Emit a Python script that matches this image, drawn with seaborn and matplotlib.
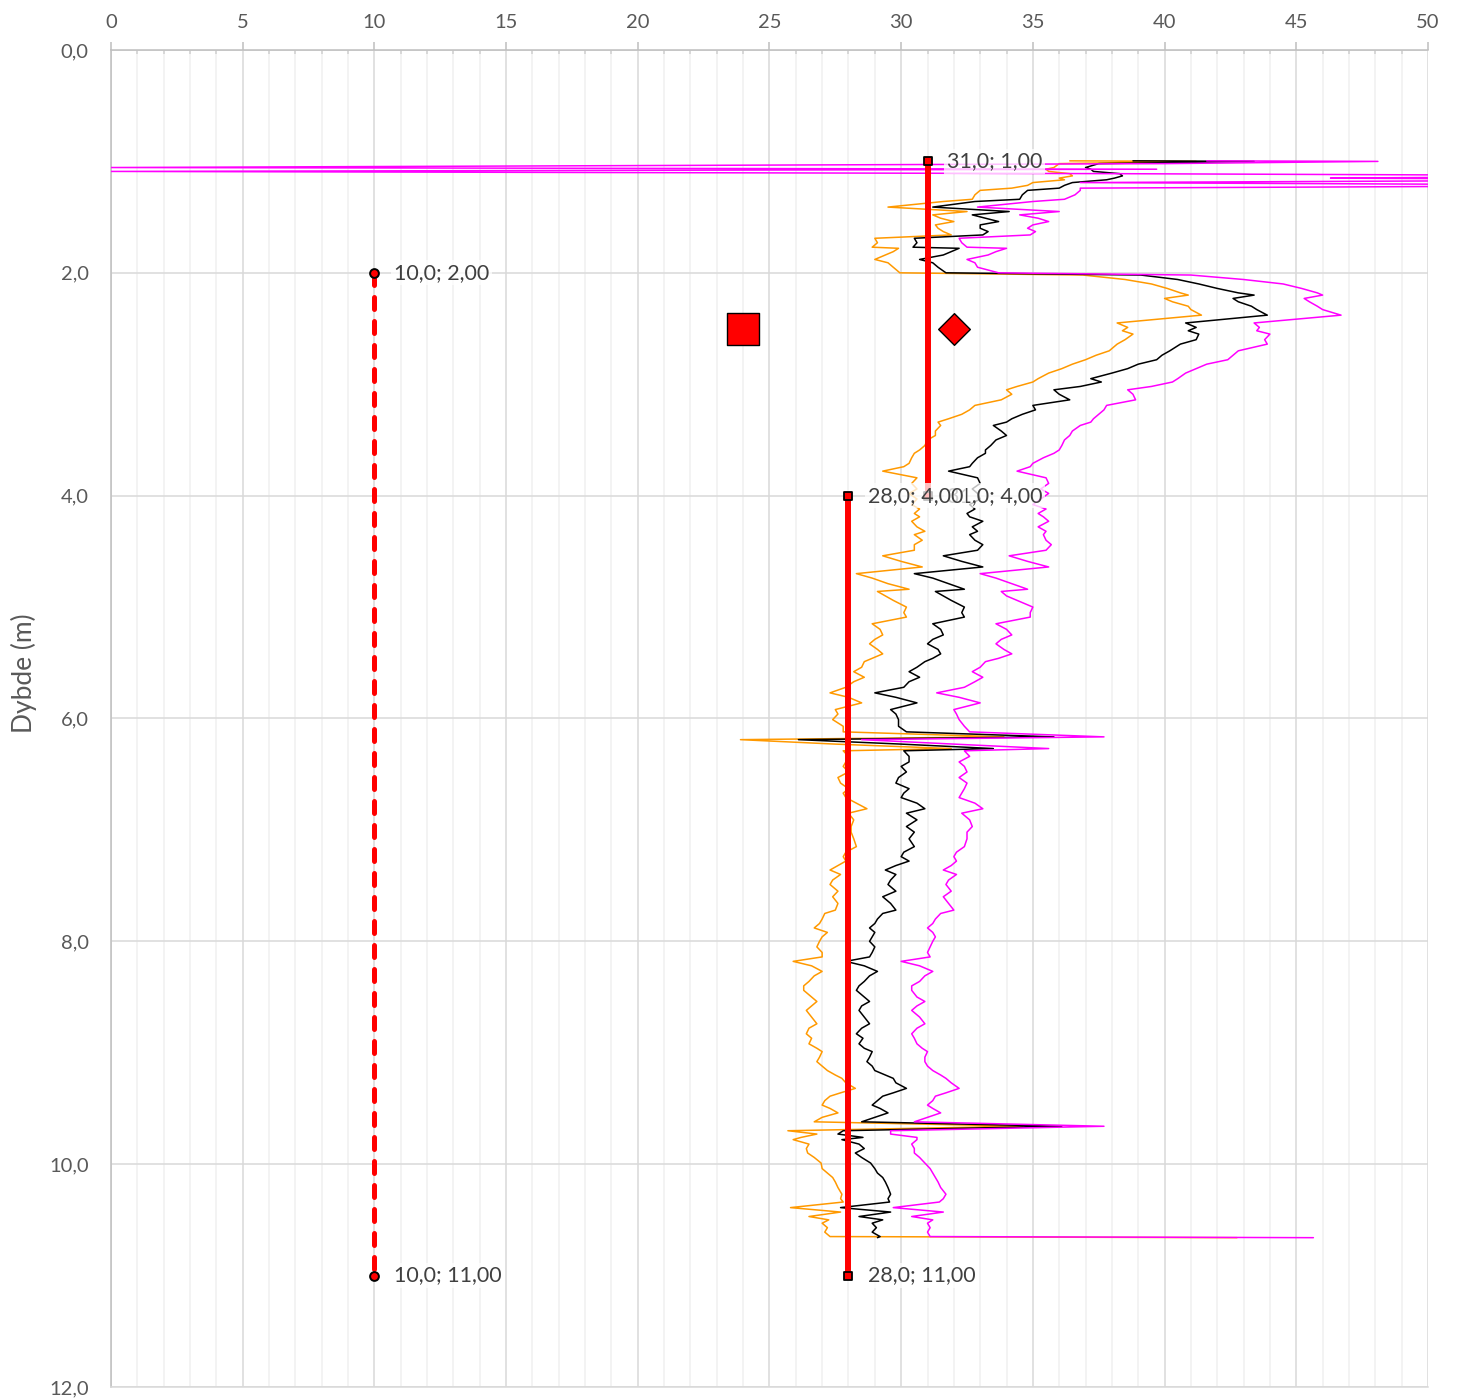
import matplotlib
matplotlib.use("Agg")
import matplotlib.pyplot as plt
from matplotlib.ticker import MultipleLocator, FuncFormatter
import seaborn as sns

sns.set_style("white")
plt.rcParams['font.family'] = ['Lato', 'DejaVu Sans']

# dybde (m) for de tre profilene
depth = [0.995, 1.0, 1.02, 1.055, 1.07, 1.09, 1.11, 1.13, 1.15, 1.165,
         1.19, 1.215, 1.24, 1.26, 1.3, 1.34, 1.36, 1.41, 1.45, 1.48,
         1.51, 1.54, 1.57, 1.6, 1.63, 1.66, 1.69, 1.73, 1.77, 1.78,
         1.81, 1.84, 1.88, 1.91, 1.95, 2.0, 2.02, 2.06, 2.1, 2.14,
         2.18, 2.2, 2.23, 2.26, 2.3, 2.33, 2.38, 2.45, 2.49, 2.52,
         2.55, 2.6, 2.64, 2.7, 2.74, 2.78, 2.82, 2.86, 2.9, 2.95,
         2.98, 3.02, 3.05, 3.09, 3.14, 3.19, 3.23, 3.27, 3.31, 3.34,
         3.37, 3.42, 3.46, 3.5, 3.55, 3.59, 3.62, 3.66, 3.71, 3.74,
         3.78, 3.84, 3.89, 3.94, 3.98, 4.03, 4.08, 4.12, 4.16, 4.19,
         4.23, 4.28, 4.32, 4.35, 4.4, 4.44, 4.49, 4.54, 4.59, 4.64,
         4.7, 4.74, 4.79, 4.84, 4.86, 4.9, 4.94, 5.0, 5.05, 5.09,
         5.15, 5.2, 5.25, 5.29, 5.33, 5.38, 5.42, 5.46, 5.49, 5.54,
         5.58, 5.63, 5.67, 5.72, 5.77, 5.81, 5.86, 5.92, 5.96, 6.01,
         6.07, 6.12, 6.165, 6.19, 6.23, 6.27, 6.29, 6.34, 6.39, 6.43,
         6.48, 6.53, 6.58, 6.63, 6.67, 6.71, 6.76, 6.81, 6.85, 6.91,
         6.97, 7.02, 7.08, 7.15, 7.2, 7.24, 7.28, 7.32, 7.36, 7.4,
         7.45, 7.49, 7.55, 7.6, 7.66, 7.72, 7.75, 7.8, 7.84, 7.88,
         7.92, 7.96, 8.0, 8.05, 8.1, 8.14, 8.18, 8.22, 8.27, 8.31,
         8.36, 8.4, 8.44, 8.5, 8.54, 8.58, 8.62, 8.68, 8.74, 8.78,
         8.83, 8.87, 8.92, 8.96, 8.99, 9.04, 9.08, 9.12, 9.16, 9.2,
         9.23, 9.27, 9.32, 9.36, 9.39, 9.43, 9.47, 9.5, 9.54, 9.58,
         9.62, 9.66, 9.7, 9.73, 9.76, 9.78, 9.82, 9.86, 9.9, 9.94,
         9.99, 10.04, 10.08, 10.12, 10.16, 10.21, 10.27, 10.31, 10.34, 10.39,
         10.43, 10.47, 10.5, 10.53, 10.57, 10.61, 10.65, 10.66]

black = [38.8, 43.4, 37.5, 37.0, 37.2, 37.3, 38.3, 38.4, 38.1, 37.8,
         36.5, 36.2, 36.0, 34.8, 34.6, 34.5, 32.8, 31.2, 34.1, 32.7,
         33.2, 33.7, 33.0, 33.0, 33.3, 33.1, 30.5, 30.6, 30.45, 32.2,
         31.9, 31.6, 30.7, 31.2, 31.4, 31.7, 39.1, 40.5, 41.3, 42.0,
         42.8, 43.4, 42.6, 42.8, 43.3, 43.5, 43.9, 40.8, 41.2, 40.9,
         41.3, 41.2, 40.6, 40.2, 39.9, 39.7, 39.0, 38.6, 38.0, 37.2,
         37.6, 36.8, 35.8, 36.0, 36.4, 35.0, 35.1, 34.6, 34.2, 34.0,
         33.5, 33.8, 34.0, 33.6, 33.4, 33.2, 33.2, 32.9, 32.7, 32.6,
         31.8, 32.9, 33.0, 32.7, 32.9, 33.0, 32.6, 32.8, 32.5, 32.6,
         33.1, 32.7, 32.9, 32.6, 32.8, 33.1, 32.9, 31.6, 32.3, 33.1,
         30.5, 31.2, 31.8, 32.4, 31.3, 31.6, 31.9, 32.4, 32.3, 32.4,
         31.2, 31.5, 31.6, 31.2, 31.0, 31.4, 31.5, 31.2, 30.9, 30.6,
         30.3, 30.7, 30.3, 30.1, 29.0, 29.8, 30.6, 29.6, 29.8, 29.9,
         29.9, 30.2, 35.8, 26.1, 30.0, 33.5, 30.1, 30.3, 30.3, 30.0,
         30.2, 29.9, 29.8, 30.3, 30.1, 30.0, 30.6, 30.9, 30.2, 30.6,
         30.2, 30.5, 30.3, 30.5, 30.1, 30.0, 30.3, 29.8, 29.4, 29.8,
         29.6, 29.5, 29.8, 29.3, 29.6, 29.8, 29.3, 29.1, 29.0, 28.8,
         29.0, 28.9, 28.8, 29.0, 28.9, 28.8, 27.9, 28.6, 29.1, 28.8,
         28.6, 28.4, 28.3, 28.6, 28.8, 28.5, 28.4, 28.6, 28.8, 28.5,
         28.3, 28.55, 28.4, 28.6, 28.9, 28.8, 28.7, 28.9, 29.0, 29.4,
         29.7, 29.8, 30.2, 29.7, 29.3, 29.1, 28.9, 29.2, 29.5, 29.0,
         28.5, 36.1, 27.8, 27.6, 28.55, 27.75, 28.4, 28.6, 28.26, 28.5,
         28.84, 29.0, 29.1, 29.3, 29.4, 29.5, 29.6, 29.5, 29.56, 27.7,
         29.6, 28.4, 29.3, 28.9, 29.06, 28.9, 29.2, 29.1]

orange = [36.4, 41.2, 36.0, 35.8, 35.5, 35.6, 36.4, 36.5, 36.0, 36.2,
          35.0, 34.8, 34.2, 33.0, 32.8, 32.7, 31.6, 29.5, 32.5, 31.2,
          31.5, 32.0, 31.3, 31.4, 31.6, 31.9, 29.0, 29.1, 28.9, 29.9,
          29.7, 29.4, 29.0, 29.5, 29.7, 29.95, 36.9, 38.5, 39.5, 40.1,
          40.6, 40.9, 40.0, 40.3, 40.9, 41.0, 41.4, 38.2, 38.6, 38.4,
          38.8, 38.5, 38.2, 37.9, 37.4, 37.0, 36.5, 36.1, 35.6, 35.2,
          35.0, 34.4, 34.0, 34.2, 33.8, 32.8, 32.6, 32.3, 31.8, 31.4,
          31.5, 31.3, 31.3, 31.0, 30.9, 30.7, 30.5, 30.4, 30.3, 30.1,
          29.3, 30.6, 30.4, 30.6, 30.3, 30.6, 30.4, 30.7, 30.5, 30.7,
          30.4, 30.6, 30.9, 30.5, 30.8, 30.5, 30.5, 29.3, 30.0, 30.8,
          28.3, 28.9, 29.5, 30.3, 29.1, 29.4, 29.7, 30.2, 30.1, 30.2,
          28.9, 29.2, 29.3, 29.0, 28.8, 29.1, 29.3, 28.9, 28.6, 28.5,
          28.2, 28.6, 28.2, 27.9, 27.3, 28.0, 28.5, 27.5, 27.6, 27.4,
          27.8, 27.8, 33.9, 23.9, 27.5, 31.9, 27.8, 28.0, 27.9, 27.8,
          28.0, 27.6, 27.7, 28.0, 27.8, 27.9, 28.3, 28.7, 28.0, 28.2,
          28.1, 28.1, 28.2, 28.3, 27.9, 27.8, 27.9, 27.6, 27.3, 27.7,
          27.4, 27.3, 27.6, 27.4, 27.6, 27.5, 27.1, 27.0, 26.9, 26.7,
          27.2, 27.0, 26.9, 26.8, 27.0, 27.0, 25.9, 26.6, 27.0, 26.7,
          26.5, 26.3, 26.3, 26.6, 26.8, 26.6, 26.4, 26.6, 26.8, 26.5,
          26.4, 26.6, 26.5, 26.8, 27.0, 26.9, 26.8, 27.0, 27.2, 27.5,
          27.75, 27.9, 28.26, 27.7, 27.3, 27.1, 27.0, 27.3, 27.6, 27.0,
          26.7, 34.6, 25.7, 26.8, 26.2, 25.9, 26.5, 26.4, 26.45, 26.7,
          26.96, 27.0, 27.2, 27.4, 27.5, 27.6, 27.75, 27.7, 27.8, 25.8,
          27.7, 26.5, 27.25, 27.0, 27.2, 27.1, 27.3, 42.75]

magenta = [41.6, 48.1, 40.0, 0, 39.7, 0, 38.0, 60, 46.3, 60,
           36.8, 60, 36.8, 36.8, 36.6, 36.2, 35.0, 32.9, 36.0, 34.5,
           35.2, 35.6, 35.0, 34.8, 35.1, 34.9, 32.2, 32.3, 32.5, 34.0,
           33.6, 33.3, 32.5, 32.8, 32.9, 33.7, 41.0, 43.0, 44.5, 45.2,
           45.8, 46.0, 45.3, 45.5, 45.8, 46.0, 46.7, 43.4, 43.6, 43.5,
           44.0, 43.8, 43.9, 42.8, 42.6, 42.4, 41.6, 41.2, 40.8, 40.5,
           40.3, 39.5, 38.6, 38.8, 38.9, 37.8, 37.7, 37.5, 37.3, 37.2,
           36.8, 36.5, 36.4, 36.2, 36.1, 36.0, 35.8, 35.4, 35.0, 34.9,
           34.4, 35.5, 35.6, 35.3, 35.6, 35.3, 35.0, 35.5, 35.2, 35.4,
           35.6, 35.2, 35.5, 35.4, 35.5, 35.7, 35.5, 34.1, 34.8, 35.6,
           33.0, 33.6, 34.2, 34.8, 33.8, 34.0, 34.4, 35.0, 34.9, 34.9,
           33.6, 34.0, 34.2, 33.8, 33.6, 33.9, 34.2, 33.7, 33.2, 33.0,
           32.7, 33.1, 32.8, 32.4, 31.35, 32.2, 33.0, 32.0, 32.1, 32.2,
           32.4, 32.6, 37.7, 28.5, 32.0, 35.6, 32.4, 32.6, 32.2, 32.4,
           32.5, 32.2, 32.5, 32.4, 32.3, 32.2, 32.8, 33.1, 32.3, 32.6,
           32.7, 32.5, 32.5, 32.4, 32.1, 32.0, 32.1, 31.9, 31.6, 32.1,
           31.8, 31.7, 31.9, 31.6, 31.8, 32.0, 31.5, 31.3, 31.2, 31.0,
           31.2, 31.3, 31.2, 31.1, 31.0, 31.1, 30.0, 30.7, 31.2, 30.9,
           30.7, 30.4, 30.4, 30.6, 30.9, 30.6, 30.4, 30.7, 30.9, 30.6,
           30.4, 30.5, 30.6, 30.8, 31.0, 30.9, 30.9, 31.0, 31.2, 31.5,
           31.7, 31.9, 32.2, 31.7, 31.3, 31.2, 31.0, 31.2, 31.5, 31.0,
           30.5, 37.7, 29.6, 29.6, 30.6, 30.6, 30.4, 30.5, 30.5, 30.7,
           30.9, 31.1, 31.2, 31.3, 31.4, 31.5, 31.7, 31.6, 31.45, 29.7,
           31.6, 30.4, 31.2, 31.0, 31.1, 31.0, 31.1, 45.65]

# røde linjer (x, dybde)
dash_x = [10, 10]
dash_y = [2, 11]
upper_x = [31, 31]
upper_y = [1, 4]
lower_x = [28, 28]
lower_y = [4, 11]

# store markører
square_x, square_y = [24], [2.5]
diamond_x, diamond_y = [32], [2.5]

fig = plt.figure(figsize=(14.58, 14.0), dpi=100)
ax = fig.add_axes([0.0761, 0.0093, 0.9033, 0.955])

# profilene
sns.lineplot(x=orange, y=depth, sort=False, estimator=None, color='#FF9900', lw=1.1, ax=ax, zorder=3)
sns.lineplot(x=black, y=depth, sort=False, estimator=None, color='black', lw=1.1, ax=ax, zorder=3)
sns.lineplot(x=magenta, y=depth, sort=False, estimator=None, color='#FF00FF', lw=1.1, ax=ax, zorder=3)

# røde linjer
sns.lineplot(x=dash_x, y=dash_y, sort=False, estimator=None, color='red', lw=3.6, ax=ax, zorder=4)
ax.lines[-1].set_linestyle((0, (2.4, 2.4)))
ax.lines[-1].set_dash_capstyle('round')
sns.lineplot(x=upper_x, y=upper_y, sort=False, estimator=None, color='red', lw=4.3, ax=ax, zorder=4)
sns.lineplot(x=lower_x, y=lower_y, sort=False, estimator=None, color='red', lw=4.3, ax=ax, zorder=4)

sns.scatterplot(x=dash_x, y=dash_y, marker='o', s=40, color='red', edgecolor='black', linewidth=1.4, ax=ax, zorder=5)
sns.scatterplot(x=upper_x + lower_x, y=upper_y + lower_y, marker='s', s=40, color='red',
                edgecolor='black', linewidth=1.3, ax=ax, zorder=5)
sns.scatterplot(x=square_x, y=square_y, marker='s', s=560, color='red', edgecolor='black',
                linewidth=1.0, ax=ax, zorder=5)
sns.scatterplot(x=diamond_x, y=diamond_y, marker='D', s=260, color='red', edgecolor='black',
                linewidth=1.0, ax=ax, zorder=5)

# etiketter
label_x = dash_x + upper_x + lower_x
label_y = dash_y + upper_y + lower_y
for x, y in zip(label_x, label_y):
    txt = f"{x:.1f}; {y:.2f}".replace('.', ',')
    ax.annotate(txt, (x, y), xytext=(14, 0), textcoords='offset points', ha='left', va='center',
                fontsize=15.5, color='#404040', zorder=10,
                bbox=dict(boxstyle='square,pad=0.12', fc='white', ec='none', alpha=0.75))

ax.set_xlim(0, 50)
ax.set_ylim(12, 0)
ax.xaxis.tick_top()
ax.xaxis.set_major_locator(MultipleLocator(5))
ax.xaxis.set_minor_locator(MultipleLocator(1))
ax.yaxis.set_major_locator(MultipleLocator(2))
ax.yaxis.set_major_formatter(FuncFormatter(lambda v, p: f"{v:.1f}".replace('.', ',')))

ax.set_axisbelow(True)
ax.grid(which='major', axis='both', color='#D9D9D9', lw=1.1)
ax.grid(which='minor', axis='x', color='#F0F0F0', lw=1.1)

ax.tick_params(axis='x', which='major', direction='out', length=6, width=1.1, color='#BFBFBF', pad=8,
               labelsize=14.5, labelcolor='#595959')
ax.tick_params(axis='x', which='minor', direction='in', length=3, width=1.1, color='#D0D0D0')
ax.tick_params(axis='y', length=0, pad=16, labelsize=14.5, labelcolor='#595959')

for side in ['top', 'left']:
    ax.spines[side].set_color('#BFBFBF')
    ax.spines[side].set_linewidth(1.1)
ax.spines['bottom'].set_color('#D9D9D9')
ax.spines['bottom'].set_linewidth(1.1)
ax.spines['right'].set_visible(False)

ax.set_xlabel('')
ax.set_ylabel('Dybde (m)', fontsize=19, color='#595959')
ax.yaxis.set_label_coords(-0.0562, 0.534)

fig.savefig('out.png', dpi=100)
